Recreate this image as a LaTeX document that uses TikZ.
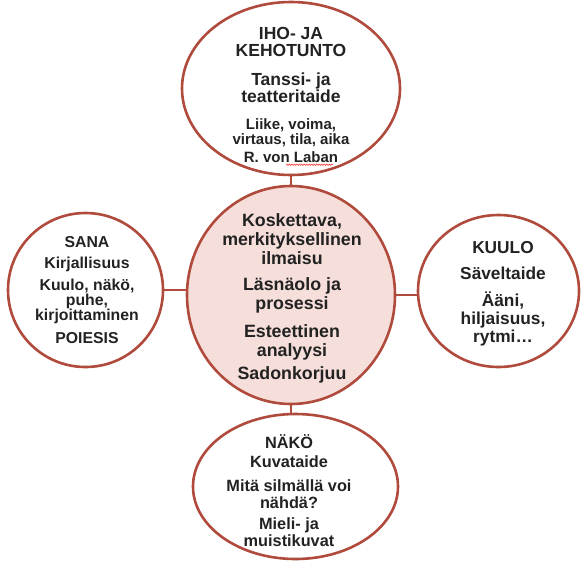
\documentclass[tikz,border=0pt]{standalone}
\usepackage{fontspec}
\setmainfont{Liberation Sans}
\usetikzlibrary{shapes.geometric,decorations.pathmorphing}
\definecolor{rim}{HTML}{B04A3C}
\definecolor{pinkfill}{HTML}{F6DEDA}
\definecolor{ink}{HTML}{222222}
\tikzset{
  bubble/.style={ellipse, draw=rim, line width=2.6pt, inner sep=0pt, outer sep=0pt},
  link/.style={draw=rim, line width=2.2pt},
  txt/.style 2 args={align=center, text=ink, inner sep=0pt, font=\bfseries\fontsize{#1}{#2}\selectfont}
}
\begin{document}
\begin{tikzpicture}[x=1pt,y=-1pt]
\useasboundingbox (0,0) rectangle (585,562);
% shapes
\node[bubble, minimum width=218pt, minimum height=173pt] (top) at (291,88.5) {};
\node[bubble, fill=pinkfill, minimum width=208pt, minimum height=218pt] (ctr) at (291,295) {};
\node[bubble, minimum width=155pt, minimum height=154pt] (sana) at (85.5,290) {};
\node[bubble, minimum width=161pt, minimum height=152pt] (kuulo) at (498.5,291) {};
\node[bubble, minimum width=205pt, minimum height=145pt] (nako) at (295.5,486.5) {};
% connectors
\draw[link] (top.south) -- (ctr.north);
\draw[link] (ctr.south) -- (ctr.south |- nako.north);
\draw[link] (sana.east) -- (sana.east -| ctr.west);
\draw[link] (ctr.east) -- (ctr.east -| kuulo.west);
% top texts
\node[txt={17.5}{17}] (t1) at (291,41.5) {IHO- JA\\KEHOTUNTO};
\node[txt={17.5}{17}] (t2) at (291,88) {Tanssi- ja\\teatteritaide};
\node[txt={15}{15}] (t3) at (291,133) {Liike, voima,\\virtaus, tila, aika};
\node[txt={15}{15}] (t4) at (291,157) {R. von Laban};
\draw[red!75, line width=0.6pt, decorate, decoration={snake, amplitude=0.7pt, segment length=2.5pt}]
  (t4.south) ++(-5,2) -- ++(47,0);
% centre texts
\node[txt={17.8}{19}] (c1) at (292,239) {Koskettava,\\merkityksellinen\\ilmaisu};
\node[txt={17.8}{19}] (c2) at (292,295.5) {Läsnäolo ja\\prosessi};
\node[txt={17.8}{19}] (c3) at (292,342.5) {Esteettinen\\analyysi};
\node[txt={17.8}{19}] (c4) at (292,375) {Sadonkorjuu};
% left texts
\node[txt={15.8}{15}] (s1) at (87,242) {SANA};
\node[txt={15.8}{15}] (s2) at (87,264.5) {Kirjallisuus};
\node[txt={15.8}{15}] (s3) at (87,301) {Kuulo, näkö,\\puhe,\\kirjoittaminen};
\node[txt={15.8}{15}] (s4) at (87,338) {POIESIS};
% right texts
\node[txt={17.3}{18}] (k1) at (503,248) {KUULO};
\node[txt={17.3}{18}] (k2) at (503,273) {Säveltaide};
\node[txt={17.3}{18}] (k3) at (503,319) {Ääni,\\hiljaisuus,\\rytmi…};
% bottom texts
\node[txt={16.3}{17}] (n1) at (289,442) {NÄKÖ};
\node[txt={16.3}{17}] (n2) at (289,462) {Kuvataide};
\node[txt={16.3}{17}] (n3) at (289,494) {Mitä silmällä voi\\nähdä?};
\node[txt={16.3}{17}] (n4) at (289,532) {Mieli- ja\\muistikuvat};
\end{tikzpicture}
\end{document}
